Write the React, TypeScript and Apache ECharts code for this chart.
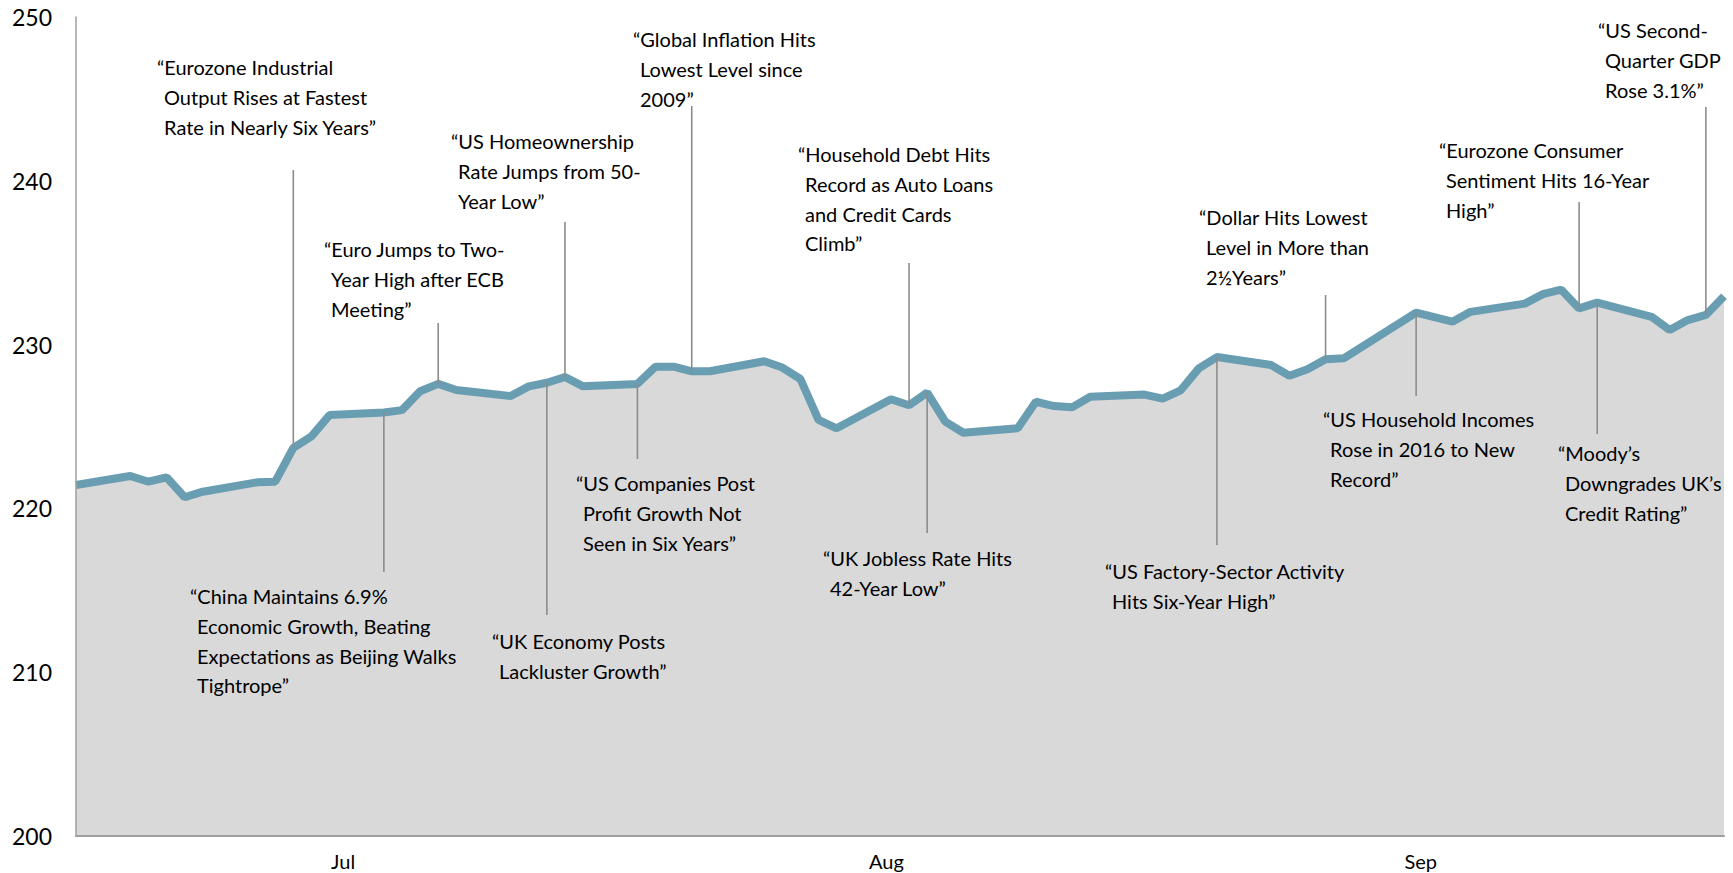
import React, { useEffect, useRef } from "react";
import * as echarts from "echarts";

// Business days counted from Fri 30 Jun 2017 (day 0)
const DAYS = [
  0, 3, 4, 5, 6, 7, 10, 11, 12, 13, 14, 17, 18, 19, 20, 21, 24, 25, 26, 27, 28,
  31, 32, 33, 34, 35, 38, 39, 40, 41, 42, 45, 46, 47, 48, 49, 52, 53, 54, 55, 56,
  59, 60, 61, 62, 63, 66, 67, 68, 69, 70, 74, 76, 77, 80, 81, 82, 83, 84, 87, 88,
  89, 90, 91,
];
const VALUES = [
  221.43, 221.98, 221.63, 221.9, 220.68, 221.02, 221.59, 221.63, 223.7, 224.4, 225.7,
  225.85, 226.0, 227.15, 227.6, 227.23, 226.86, 227.45, 227.67, 228.02, 227.45,
  227.6, 228.65, 228.65, 228.37, 228.37, 228.98, 228.6, 227.9, 225.4, 224.89,
  226.66, 226.3, 227.07, 225.3, 224.62, 224.89, 226.51, 226.25, 226.17, 226.82,
  226.95, 226.7, 227.21, 228.55, 229.24, 228.75, 228.1, 228.49, 229.1, 229.16,
  231.95, 231.4, 232.0, 232.5, 233.08, 233.36, 232.21, 232.56, 231.7, 230.89,
  231.5, 231.81, 232.95,
];

const Y_MIN = 200;
const Y_MAX = 250;
const Y_STEP = 10;
const X_MAX_DAY = 91;

const MONTH_LABELS = ["Jul", "Aug", "Sep"];
const MONTH_LABEL_DAYS = [14.75, 44.75, 74.25];

const ANNOTATION_TEXT: string[][] = [
  ["“Eurozone Industrial", "Output Rises at Fastest", "Rate in Nearly Six Years”"],
  ["“China Maintains 6.9%", "Economic Growth, Beating", "Expectations as Beijing Walks", "Tightrope”"],
  ["“Euro Jumps to Two-", "Year High after ECB", "Meeting”"],
  ["“US Homeownership", "Rate Jumps from 50-", "Year Low”"],
  ["“UK Economy Posts", "Lackluster Growth”"],
  ["“Global Inflation Hits", "Lowest Level since", "2009”"],
  ["“US Companies Post", "Profit Growth Not", "Seen in Six Years”"],
  ["“Household Debt Hits", "Record as Auto Loans", "and Credit Cards", "Climb”"],
  ["“UK Jobless Rate Hits", "42-Year Low”"],
  ["“US Factory-Sector Activity", "Hits Six-Year High”"],
  ["“Dollar Hits Lowest", "Level in More than", "2½Years”"],
  ["“US Household Incomes", "Rose in 2016 to New", "Record”"],
  ["“Eurozone Consumer", "Sentiment Hits 16-Year", "High”"],
  ["“Moody’s", "Downgrades UK’s", "Credit Rating”"],
  ["“US Second-", "Quarter GDP", "Rose 3.1%”"],
];
const ANNOTATION_DAY = [12, 17, 20, 27, 26, 34, 31, 46, 47, 63, 69, 74, 83, 84, 90];

// layout (pixels): text left, first line centre, connector far end
const ANNOTATION_LAYOUT = [
  { x: 157, y: 67, end: 170 },
  { x: 190, y: 596, end: 572 },
  { x: 324, y: 249, end: 323 },
  { x: 451, y: 141, end: 222 },
  { x: 492, y: 641, end: 615 },
  { x: 633, y: 39, end: 106 },
  { x: 576, y: 483, end: 459 },
  { x: 798, y: 154, end: 263 },
  { x: 823, y: 558, end: 533 },
  { x: 1105, y: 571, end: 545 },
  { x: 1199, y: 217, end: 295 },
  { x: 1323, y: 419, end: 396 },
  { x: 1439, y: 150, end: 202 },
  { x: 1558, y: 453, end: 434 },
  { x: 1598, y: 30, end: 107 },
];
const LINE_GAP = 29.8;
const INDENT = 7;
const FONT = "Lato, 'Open Sans', sans-serif";

export default function App() {
  const ref = useRef<HTMLDivElement>(null);

  useEffect(() => {
    const chart = echarts.init(ref.current!, null, { renderer: "svg" });
    const data = DAYS.map((d, i) => [d, VALUES[i]]);

    chart.setOption({
      animation: false,
      grid: { left: 76, right: 9, top: 17, bottom: 37 },
      xAxis: {
        type: "value",
        min: 0,
        max: X_MAX_DAY,
        interval: 0.25,
        z: 5,
        axisLine: { show: true, lineStyle: { color: "#9e9e9e", width: 2 } },
        axisTick: { show: false },
        splitLine: { show: false },
        axisLabel: {
          color: "#000",
          fontSize: 20,
          fontFamily: FONT,
          margin: 15,
          showMinLabel: true,
          showMaxLabel: true,
          formatter: (v: number) => {
            for (let i = 0; i < MONTH_LABEL_DAYS.length; i++) {
              if (Math.abs(v - MONTH_LABEL_DAYS[i]) < 0.01) return MONTH_LABELS[i];
            }
            return "";
          },
        },
      },
      yAxis: {
        type: "value",
        min: Y_MIN,
        max: Y_MAX,
        interval: Y_STEP,
        z: 5,
        axisLine: { show: true, lineStyle: { color: "#9e9e9e", width: 1.5 } },
        axisTick: { show: false },
        splitLine: { show: false },
        axisLabel: { color: "#000", fontSize: 23, fontFamily: FONT, margin: 24 },
      },
      series: [
        {
          type: "line",
          data,
          symbol: "none",
          z: 2,
          lineStyle: { color: "#699db1", width: 8 },
          areaStyle: { color: "#d9d9d9", opacity: 1, origin: "start" },
        },
      ],
    });

    const graphics: any[] = [];
    ANNOTATION_DAY.forEach((day, i) => {
      const idx = DAYS.indexOf(day);
      const p = chart.convertToPixel({ gridIndex: 0 }, [day, VALUES[idx]]) as number[];
      const L = ANNOTATION_LAYOUT[i];
      graphics.push({
        type: "line",
        z: 10,
        shape: { x1: p[0], y1: p[1], x2: p[0], y2: L.end },
        style: { stroke: "#8c8c8c", lineWidth: 1.6 },
      });
      ANNOTATION_TEXT[i].forEach((t, j) => {
        graphics.push({
          type: "text",
          z: 10,
          x: L.x + (j ? INDENT : 0),
          y: L.y + j * LINE_GAP,
          style: {
            text: t,
            fontSize: 20,
            fontFamily: FONT,
            fill: "#000",
            align: "left",
            verticalAlign: "middle",
          },
        });
      });
    });
    chart.setOption({ graphic: graphics });

    return () => chart.dispose();
  }, []);

  return (
    <div
      ref={ref}
      style={{ position: "fixed", left: 0, top: 0, width: 1733, height: 873, background: "#fff" }}
    />
  );
}
